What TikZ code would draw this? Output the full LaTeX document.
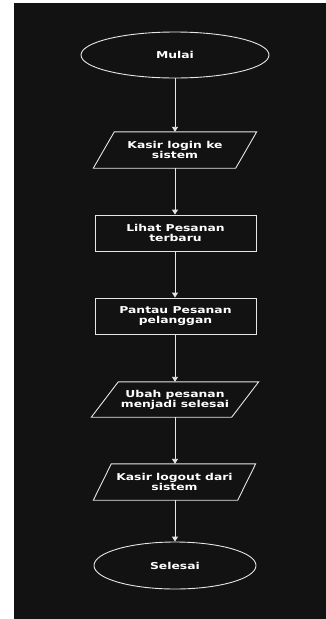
\documentclass[tikz,border=0pt]{standalone}
\usepackage{fontspec}
\newfontfamily\lblfont[FakeStretch=1.3]{DejaVu Sans}
\usetikzlibrary{shapes.geometric,arrows.meta}
\definecolor{bgdark}{HTML}{121212}
\definecolor{fg}{HTML}{E6E6E6}
\begin{document}
\begin{tikzpicture}[x=1pt,y=-1pt,
  lbl/.style={text=white,font=\lblfont\bfseries\fontsize{9.5}{10}\selectfont,align=center,inner sep=0pt},
  term/.style={lbl,ellipse,draw=fg,line width=0.9pt,inner sep=0pt},
  procbox/.style={lbl,rectangle,draw=fg,line width=0.9pt,minimum width=161pt,minimum height=36pt},
  iobox/.style={lbl,rectangle,draw=none,minimum height=36pt},
  iodraw/.style={draw=fg,line width=0.9pt},
  flow/.style={draw=fg,line width=0.9pt,-{Triangle[width=6pt,length=5pt]}}]
\useasboundingbox (0,0) rectangle (326,619);
\fill[white] (0,0) rectangle (326,619);
\fill[bgdark] (14,3) rectangle (326,619);

\node[term,minimum width=188pt,minimum height=46pt] (start) at (175,55) {Mulai};
\node[iobox,minimum width=142pt] (p1) at (175,150) {Kasir login ke\\sistem};
\draw[iodraw] ([xshift=10.5pt]p1.north west) -- ([xshift=10.5pt]p1.north east) -- ([xshift=-10.5pt]p1.south east) -- ([xshift=-10.5pt]p1.south west) -- cycle;
\node[procbox] (r1) at (175.5,233) {Lihat Pesanan\\terbaru};
\node[procbox] (r2) at (175.5,316) {Pantau Pesanan\\pelanggan};
\node[iobox,minimum width=140pt,minimum height=35pt] (p2) at (175,399.5) {Ubah pesanan\\menjadi selesai};
\draw[iodraw] ([xshift=13.5pt]p2.north west) -- ([xshift=13.5pt]p2.north east) -- ([xshift=-13.5pt]p2.south east) -- ([xshift=-13.5pt]p2.south west) -- cycle;
\node[iobox,minimum width=144pt] (p3) at (174.5,482) {Kasir logout dari\\sistem};
\draw[iodraw] ([xshift=9pt]p3.north west) -- ([xshift=9pt]p3.north east) -- ([xshift=-9pt]p3.south east) -- ([xshift=-9pt]p3.south west) -- cycle;
\node[term,minimum width=162pt,minimum height=47pt] (end) at (175,565.5) {Selesai};

\draw[flow] (start.south) -- (p1.north);
\draw[flow] (p1.south) -- (r1.north -| p1.south);
\draw[flow] (r1.south -| p1.south) -- (r2.north -| p1.south);
\draw[flow] (r2.south -| p1.south) -- (p2.north);
\draw[flow] (p2.south) -- (p3.north -| p2.south);
\draw[flow] (p3.south -| p2.south) -- (end.north);
\end{tikzpicture}
\end{document}
